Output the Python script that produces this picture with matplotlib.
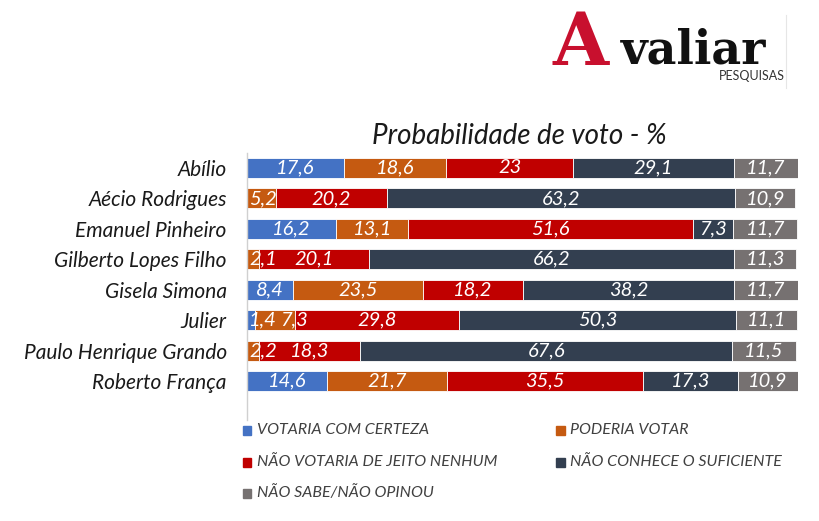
import matplotlib
matplotlib.use("Agg")
import matplotlib.pyplot as plt
from matplotlib.patches import Rectangle
from matplotlib.lines import Line2D

candidates = ["Abílio", "Aécio Rodrigues", "Emanuel Pinheiro", "Gilberto Lopes Filho",
              "Gisela Simona", "Julier", "Paulo Henrique Grando", "Roberto França"]
series_names = ["VOTARIA COM CERTEZA", "PODERIA VOTAR", "NÃO VOTARIA DE JEITO NENHUM",
                "NÃO CONHECE O SUFICIENTE", "NÃO SABE/NÃO OPINOU"]
votaria = [17.6, 0, 16.2, 0, 8.4, 1.4, 0, 14.6]
poderia = [18.6, 5.2, 13.1, 2.1, 23.5, 7.3, 2.2, 21.7]
nao_votaria = [23, 20.2, 51.6, 20.1, 18.2, 29.8, 18.3, 35.5]
nao_conhece = [29.1, 63.2, 7.3, 66.2, 38.2, 50.3, 67.6, 17.3]
nao_sabe = [11.7, 10.9, 11.7, 11.3, 11.7, 11.1, 11.5, 10.9]
series = [votaria, poderia, nao_votaria, nao_conhece, nao_sabe]
colors = ["#4472C4", "#C55A11", "#C00000", "#333F50", "#767171"]

FONT = ["Lato", "DejaVu Sans"]
W, H = 820, 521
fig = plt.figure(figsize=(W / 100, H / 100), dpi=100)
ax = fig.add_axes([247 / W, 1 - 420 / H, 551 / W, 267 / H])

y = list(range(len(candidates)))
left = [0.0] * len(candidates)
row_labels = {i: [] for i in y}
for vals, col in zip(series, colors):
    ax.barh(y, vals, left=left, height=0.66, color=col, edgecolor="white", linewidth=0.6)
    for i, v in enumerate(vals):
        if v > 0:
            lab = f"{v:g}".replace(".", ",")
            t = ax.text(left[i] + v / 2, i, lab, ha="center", va="center", color="white",
                        fontsize=14.5, style="italic", family=FONT)
            row_labels[i].append(t)
    left = [l + v for l, v in zip(left, vals)]

ax.set_xlim(0, 100)
ax.set_ylim(8.28, -0.49)
ax.set_yticks(y)
ax.set_yticklabels(candidates, fontsize=15, style="italic", family=FONT, color="#1a1a1a")
ax.tick_params(axis="y", length=0, pad=14.5)
ax.set_xticks([])
for s in ["top", "right", "bottom"]:
    ax.spines[s].set_visible(False)
ax.spines["left"].set_color("#d0d0d0")
ax.spines["left"].set_linewidth(1)

# keep labels inside the plot area and avoid overlaps (like Excel)
fig.canvas.draw()
r = fig.canvas.get_renderer()
ax_left_px = ax.transData.transform((0, 0))[0]
for i, texts in row_labels.items():
    prev_right = ax_left_px - 1
    for t in texts:
        bb = t.get_window_extent(r)
        w = bb.width
        x0 = bb.x0
        minx = max(ax_left_px - 1, prev_right + 3)
        if x0 < minx:
            shift = minx - x0
            cx = bb.x0 + w / 2 + shift
            xd = ax.transData.inverted().transform((cx, 0))[0]
            t.set_x(xd)
            x0 = minx
        prev_right = x0 + w

fig.text(519 / W, 1 - 136 / H, "Probabilidade de voto - %", ha="center", va="center",
         fontsize=20, style="italic", family=FONT, color="#1a1a1a")

# legend (manual, row-major)
leg_pos = [(243, 430), (556, 430), (243, 462), (556, 462), (243, 493)]
for (lx, ly), name, col in zip(leg_pos, series_names, colors):
    fig.add_artist(Rectangle((lx / W, 1 - (ly + 4.5) / H), 8.5 / W, 9 / H,
                             transform=fig.transFigure, color=col))
    fig.text((lx + 14) / W, 1 - ly / H, name, ha="left", va="center", fontsize=11.5,
             style="italic", family=FONT, color="#404040")

# logo
fig.text(553 / W, 1 - 65 / H, "A", ha="left", va="baseline", fontsize=52,
         family="DejaVu Serif", weight="bold", color="#C8102E")
fig.text(621 / W, 1 - 63 / H, "valiar", ha="left", va="baseline", fontsize=33,
         family="DejaVu Serif", weight="bold", color="#111111")
fig.text(785 / W, 1 - 80 / H, "PESQUISAS", ha="right", va="baseline", fontsize=9,
         family=FONT, color="#333333")
fig.add_artist(Line2D([786 / W, 786 / W], [1 - 15 / H, 1 - 88 / H],
                      transform=fig.transFigure, color="#e6e6e6", linewidth=0.8))

fig.savefig("out.png", dpi=100)
